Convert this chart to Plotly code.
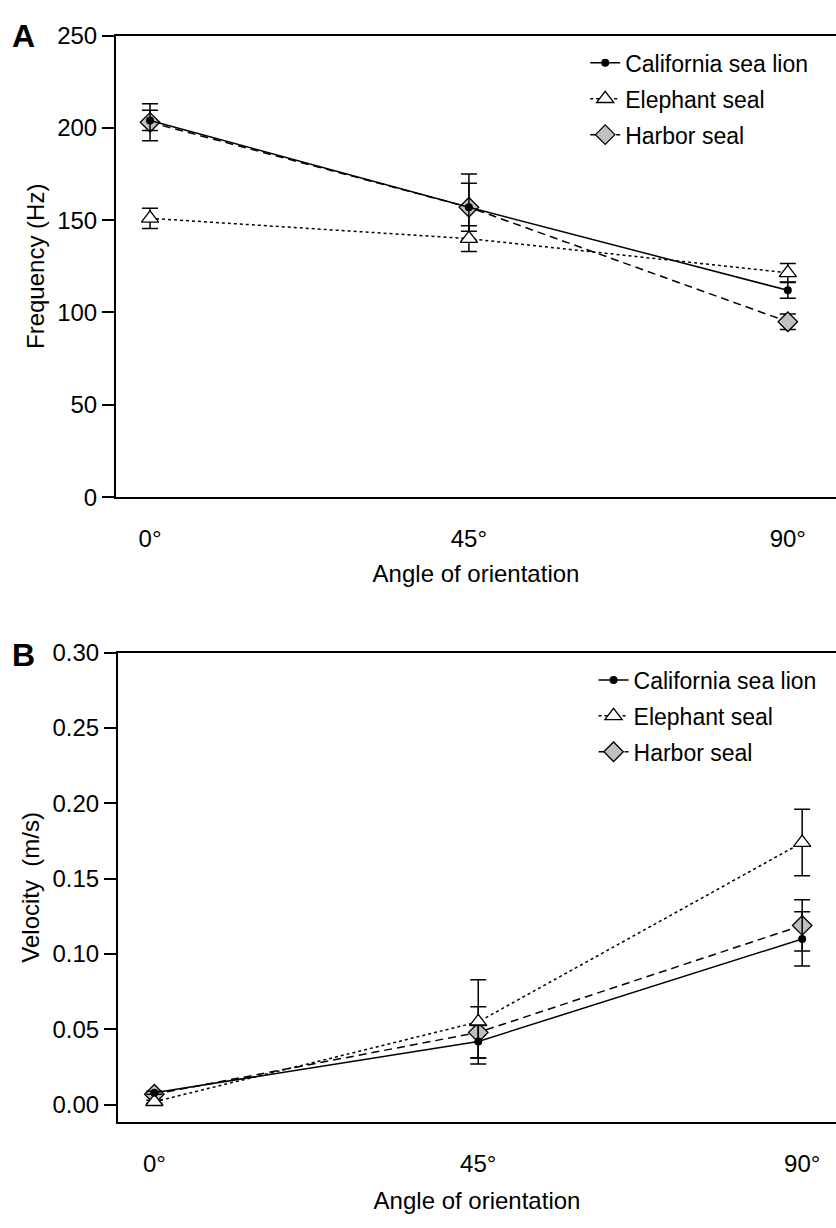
import plotly.graph_objects as go

# Orientation angles (degrees) and tick labels
angles = [0, 45, 90]
angle_labels = ["0°", "45°", "90°"]

species = ["California sea lion", "Elephant seal", "Harbor seal"]

# Panel A: frequency (Hz), mean and error
freq_sea_lion = [204, 157, 112]
freq_sea_lion_err = [5.5, 13, 4.3]
freq_elephant = [151, 140, 121.5]
freq_elephant_err = [5.5, 7, 5]
freq_harbor = [203, 157, 95]
freq_harbor_err = [10, 18, 4.2]

# Panel B: velocity (m/s), mean and error
vel_sea_lion = [0.008, 0.042, 0.110]
vel_sea_lion_err = [0.001, 0.011, 0.018]
vel_elephant = [0.002, 0.055, 0.174]
vel_elephant_err = [0.001, 0.028, 0.022]
vel_harbor = [0.007, 0.048, 0.119]
vel_harbor_err = [0.001, 0.017, 0.017]

FONT = "Arial, Liberation Sans, sans-serif"
TICK = 24
TITLE = 24
LEG = 23

styles = {
    "California sea lion": dict(dash="solid", symbol="circle", size=8, fill="black", lw=0),
    "Elephant seal": dict(dash="3px,3px", symbol="triangle-up", size=15, fill="white", lw=1.3),
    "Harbor seal": dict(dash="8px,5px", symbol="diamond", size=15, fill="#c0c0c0", lw=1.3),
}

fig = go.Figure()


def add_series(name, y, err, xaxis, yaxis, legend):
    st = styles[name]
    fig.add_trace(go.Scatter(
        x=angles, y=y, name=name, mode="lines+markers",
        xaxis=xaxis, yaxis=yaxis, legend=legend, legendgroup=name,
        legendrank=species.index(name) + 1,
        line=dict(color="black", width=1.5, dash=st["dash"]),
        marker=dict(symbol=st["symbol"], size=st["size"], color=st["fill"],
                    line=dict(color="black", width=st["lw"])),
        error_y=dict(type="data", array=err, visible=True, color="black",
                     thickness=1.5, width=8),
    ))


# draw order: harbor at back, sea lion on top
add_series("Harbor seal", freq_harbor, freq_harbor_err, "x", "y", "legend")
add_series("Elephant seal", freq_elephant, freq_elephant_err, "x", "y", "legend")
add_series("California sea lion", freq_sea_lion, freq_sea_lion_err, "x", "y", "legend")
add_series("Harbor seal", vel_harbor, vel_harbor_err, "x2", "y2", "legend2")
add_series("Elephant seal", vel_elephant, vel_elephant_err, "x2", "y2", "legend2")
add_series("California sea lion", vel_sea_lion, vel_sea_lion_err, "x2", "y2", "legend2")

H = 1228
W = 836


def py(pix):
    return (H - pix) / H


def x_axis(standoff):
    return dict(
        tickmode="array", tickvals=angles, ticktext=angle_labels,
        showline=True, linecolor="black", linewidth=2, mirror=True,
        ticks="", showgrid=False, zeroline=False,
        tickfont=dict(family=FONT, size=TICK, color="black"),
        ticklabelstandoff=19,
        title=dict(text="Angle of orientation", font=dict(family=FONT, size=TITLE, color="black"),
                   standoff=standoff),
    )


common_y = dict(
    showline=True, linecolor="black", linewidth=2, mirror=False,
    ticks="outside", ticklen=12, tickwidth=2, tickcolor="black",
    showgrid=False, zeroline=False,
    tickfont=dict(family=FONT, size=TICK, color="black"),
)

fig.update_layout(
    width=W, height=H,
    margin=dict(l=0, r=0, t=0, b=0),
    paper_bgcolor="white", plot_bgcolor="white",
    font=dict(family=FONT, color="black"),
    xaxis=dict(x_axis(14), domain=[116 / W, 1], range=[-4.8, 96.8], anchor="y"),
    yaxis=dict(common_y, domain=[py(494), py(22)], range=[0, 250],
               tickvals=[0, 50, 100, 150, 200, 250], anchor="x",
               title=dict(text="Frequency (Hz)", font=dict(family=FONT, size=TITLE, color="black"), standoff=6)),
    xaxis2=dict(x_axis(16), domain=[118 / W, 1], range=[-5.05, 94.7], anchor="y2"),
    yaxis2=dict(common_y, domain=[py(1133), py(653)], range=[-0.0115, 0.30],
                tickvals=[0, 0.05, 0.10, 0.15, 0.20, 0.25, 0.30], tickformat=".2f", anchor="x2",
                title=dict(text="Velocity  (m/s)", font=dict(family=FONT, size=TITLE, color="black"), standoff=6)),
    legend=dict(x=0.70, y=py(28), xanchor="left", yanchor="top",
                traceorder="grouped", tracegroupgap=3, bgcolor="rgba(0,0,0,0)",
                font=dict(family=FONT, size=LEG, color="black")),
    legend2=dict(x=0.71, y=py(659), xanchor="left", yanchor="top",
                 traceorder="grouped", tracegroupgap=3, bgcolor="rgba(0,0,0,0)",
                 font=dict(family=FONT, size=LEG, color="black")),
    annotations=[
        dict(text="<b>A</b>", x=10 / W, y=py(22), xref="paper", yref="paper",
             xanchor="left", yanchor="middle", showarrow=False,
             font=dict(family=FONT, size=32, color="black")),
        dict(text="<b>B</b>", x=10 / W, y=py(655), xref="paper", yref="paper",
             xanchor="left", yanchor="middle", showarrow=False,
             font=dict(family=FONT, size=32, color="black")),
    ],
)

fig.write_html("out.html")
